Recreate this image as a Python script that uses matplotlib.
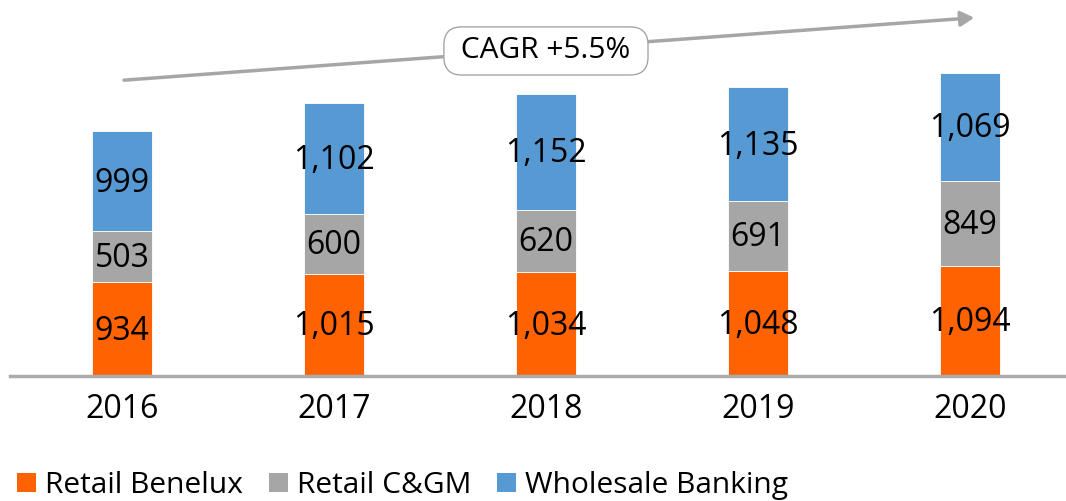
import matplotlib.pyplot as plt
from matplotlib.patches import Patch

years = ["2016", "2017", "2018", "2019", "2020"]
retail_benelux = [934, 1015, 1034, 1048, 1094]
retail_cgm = [503, 600, 620, 691, 849]
wholesale = [999, 1102, 1152, 1135, 1069]

series_names = ["Retail Benelux", "Retail C&GM", "Wholesale Banking"]
colors = ["#FF6200", "#A6A6A6", "#5699D3"]
cagr_label = "CAGR +5.5%"

plt.rcParams["font.family"] = ["Open Sans", "DejaVu Sans"]

fig = plt.figure(figsize=(10.66, 5.01), dpi=100)
ax = fig.add_axes([10 / 1066, 125 / 501, 1056 / 1066, 376 / 501])

x = list(range(len(years)))
width = 0.283
bottom = [0] * len(years)
for vals, color in zip([retail_benelux, retail_cgm, wholesale], colors):
    ax.bar(x, vals, width, bottom=bottom, color=color,
           edgecolor="white", linewidth=0.6)
    for xi, b, v in zip(x, bottom, vals):
        ax.text(xi, b + v / 2 - 20, f"{v:,}", ha="center", va="center",
                fontsize=23, color="black")
    bottom = [b + v for b, v in zip(bottom, vals)]

totals = bottom

# CAGR arrow over the bars
y0 = totals[0] + 505
y1 = totals[-1] + 550
ax.annotate("", xy=(4.02, y1), xytext=(0.01, y0),
            arrowprops=dict(arrowstyle="-|>,head_length=0.8,head_width=0.45",
                            color="#A6A6A6", lw=2.5, shrinkA=0, shrinkB=0))
ax.text(2.0, (y0 + y1) / 2 - 20, " " + cagr_label + " ",
        ha="center", va="center", fontsize=21.5,
        bbox=dict(boxstyle="round,pad=0.32,rounding_size=0.6",
                  fc="white", ec="#A6A6A6", lw=1))

ax.set_xlim(-0.528, 4.453)
ax.set_ylim(0, 3738)
ax.set_xticks(x)
ax.set_xticklabels(years, fontsize=23)
ax.tick_params(axis="x", length=0, pad=12)
ax.set_yticks([])
for s in ["top", "left", "right"]:
    ax.spines[s].set_visible(False)
ax.spines["bottom"].set_color("#ABABAB")
ax.spines["bottom"].set_linewidth(2.5)

handles = [Patch(facecolor=c, edgecolor="none") for c in colors]
fig.legend(handles, series_names, loc="lower left", bbox_to_anchor=(-0.006, -0.046),
           ncol=3, frameon=False, fontsize=21.5, handlelength=0.63,
           handleheight=0.63, handletextpad=0.3, columnspacing=0.87,
           borderpad=0.3)

fig.savefig("out.png", dpi=100)
